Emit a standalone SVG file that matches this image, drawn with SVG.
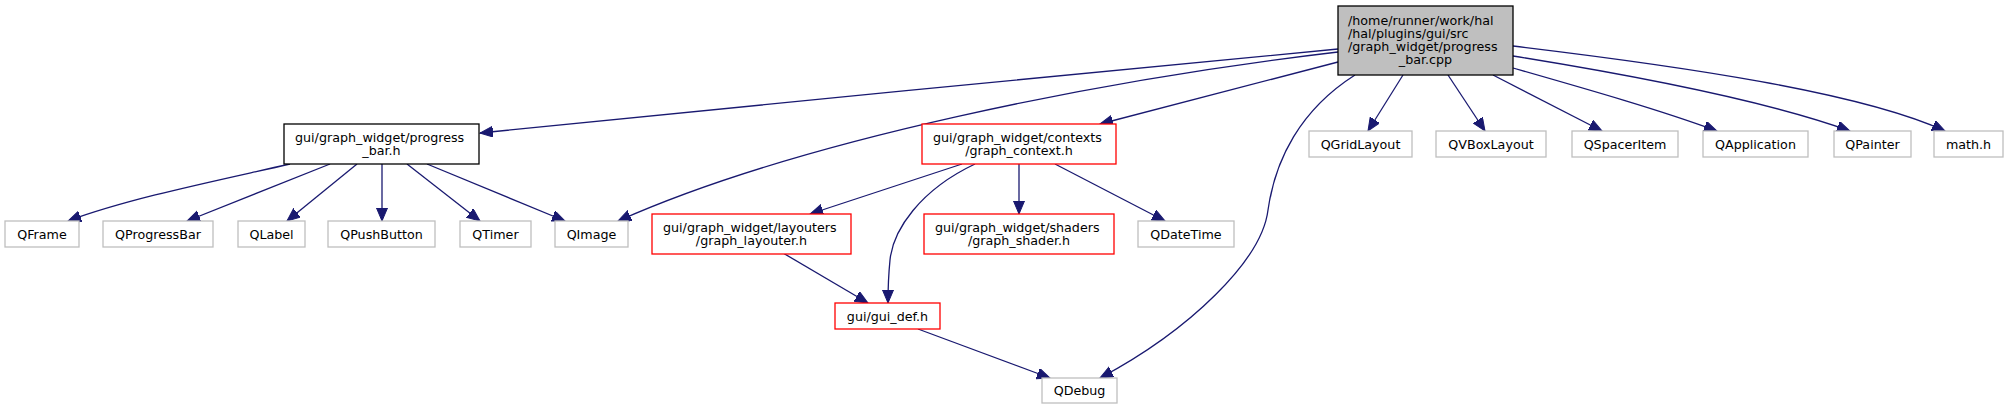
<svg xmlns="http://www.w3.org/2000/svg" width="2007" height="409" viewBox="0 0 2007 409">
<style>
text{font-family:"DejaVu Sans","Liberation Sans",sans-serif;font-size:12.7px;fill:#000}
.c{text-anchor:middle}
.n rect{stroke-width:1.3}
.root rect{fill:#bfbfbf;stroke:#000}
.blk rect{fill:#fff;stroke:#000}
.red rect{fill:#fff;stroke:#ff0000}
.gry rect{fill:#fff;stroke:#bfbfbf}
#edges path{fill:none;stroke:#191970;stroke-width:1.3;marker-end:url(#ah)}
</style>
<defs>
<marker id="ah" markerUnits="userSpaceOnUse" markerWidth="15" markerHeight="12" refX="13" refY="5.5" orient="auto">
<path d="M0,0 L13,5.5 L0,11 z" fill="#191970" stroke="#191970" stroke-width="1"/>
</marker>
</defs>
<rect width="2007" height="409" fill="#fff"/>
<g id="edges">
<path d="M1338,49 C1100,72 720,108 480,133"/>
<path d="M1338,52 C1100,80 800,140 618,221"/>
<path d="M1338,62 L1100,124"/>
<path d="M1355,75 C1300,110 1275,160 1268,210 C1262,260 1190,330 1100,378"/>
<path d="M1403,75 L1368,131"/>
<path d="M1448,75 L1485,131"/>
<path d="M1493,75 L1602,131"/>
<path d="M1513,68 C1590,90 1660,110 1717,131"/>
<path d="M1513,56 C1650,78 1770,102 1850,131"/>
<path d="M1513,46 C1680,66 1860,92 1945,131"/>
<path d="M290,164 C220,180 130,198 68,221"/>
<path d="M330,164 L187,221"/>
<path d="M357,164 L287,221"/>
<path d="M382,164 L382,221"/>
<path d="M407,164 L480,221"/>
<path d="M427,164 L565,221"/>
<path d="M962,164 L810,214"/>
<path d="M975,164 C920,190 893,230 890,260 C888,280 888,292 888,303"/>
<path d="M1019,164 L1019,214"/>
<path d="M1055,164 L1165,221"/>
<path d="M783,253 L868,303"/>
<path d="M918,329 L1050,378"/>
</g>
<g id="root" class="n root"><rect x="1338" y="6" width="175" height="69"/>
<text x="1348" y="24.5">/home/runner/work/hal</text>
<text x="1348" y="37.8">/hal/plugins/gui/src</text>
<text x="1348" y="51.1">/graph_widget/progress</text>
<text class="c" x="1425.5" y="64.4">_bar.cpp</text></g>
<g id="progress_bar_h" class="n blk"><rect x="284" y="124" width="195" height="40"/>
<text x="295" y="141.5">gui/graph_widget/progress</text>
<text class="c" x="381.5" y="154.8">_bar.h</text></g>
<g id="graph_context_h" class="n red"><rect x="922" y="124" width="194" height="40"/>
<text x="933" y="141.5">gui/graph_widget/contexts</text>
<text class="c" x="1019" y="154.8">/graph_context.h</text></g>
<g id="graph_layouter_h" class="n red"><rect x="652" y="214" width="199" height="40"/>
<text x="663" y="231.5">gui/graph_widget/layouters</text>
<text class="c" x="751.5" y="244.8">/graph_layouter.h</text></g>
<g id="graph_shader_h" class="n red"><rect x="924" y="214" width="190" height="40"/>
<text x="935" y="231.5">gui/graph_widget/shaders</text>
<text class="c" x="1019" y="244.8">/graph_shader.h</text></g>
<g id="gui_def_h" class="n red"><rect x="835" y="303" width="105" height="26"/>
<text class="c" x="887.5" y="320.5">gui/gui_def.h</text></g>
<g id="QDebug" class="n gry"><rect x="1042" y="378" width="75" height="25"/>
<text class="c" x="1079.5" y="395">QDebug</text></g>
<g id="QFrame" class="n gry"><rect x="5" y="221" width="74" height="26"/>
<text class="c" x="42" y="238.5">QFrame</text></g>
<g id="QProgressBar" class="n gry"><rect x="103" y="221" width="110" height="26"/>
<text class="c" x="158" y="238.5">QProgressBar</text></g>
<g id="QLabel" class="n gry"><rect x="238" y="221" width="67" height="26"/>
<text class="c" x="271.5" y="238.5">QLabel</text></g>
<g id="QPushButton" class="n gry"><rect x="328" y="221" width="107" height="26"/>
<text class="c" x="381.5" y="238.5">QPushButton</text></g>
<g id="QTimer" class="n gry"><rect x="460" y="221" width="71" height="26"/>
<text class="c" x="495.5" y="238.5">QTimer</text></g>
<g id="QImage" class="n gry"><rect x="555" y="221" width="73" height="26"/>
<text class="c" x="591.5" y="238.5">QImage</text></g>
<g id="QDateTime" class="n gry"><rect x="1138" y="221" width="96" height="26"/>
<text class="c" x="1186" y="238.5">QDateTime</text></g>
<g id="QGridLayout" class="n gry"><rect x="1309" y="131" width="103" height="26"/>
<text class="c" x="1360.5" y="148.5">QGridLayout</text></g>
<g id="QVBoxLayout" class="n gry"><rect x="1436" y="131" width="110" height="26"/>
<text class="c" x="1491" y="148.5">QVBoxLayout</text></g>
<g id="QSpacerItem" class="n gry"><rect x="1572" y="131" width="106" height="26"/>
<text class="c" x="1625" y="148.5">QSpacerItem</text></g>
<g id="QApplication" class="n gry"><rect x="1703" y="131" width="105" height="26"/>
<text class="c" x="1755.5" y="148.5">QApplication</text></g>
<g id="QPainter" class="n gry"><rect x="1834" y="131" width="77" height="26"/>
<text class="c" x="1872.5" y="148.5">QPainter</text></g>
<g id="math_h" class="n gry"><rect x="1934" y="131" width="69" height="26"/>
<text class="c" x="1968.5" y="148.5">math.h</text></g>
</svg>
